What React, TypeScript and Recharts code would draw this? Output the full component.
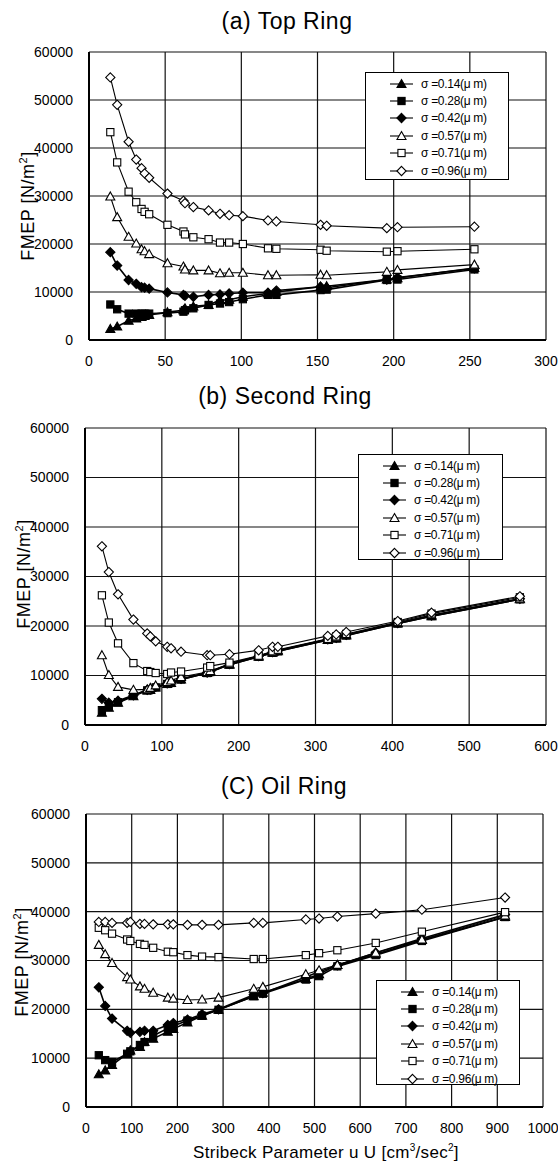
import React from "react";
import { LineChart, Line, XAxis, YAxis, CartesianGrid, Legend } from "recharts";

const sigmaLabels = [
  "σ =0.14(μ m)",
  "σ =0.28(μ m)",
  "σ =0.42(μ m)",
  "σ =0.57(μ m)",
  "σ =0.71(μ m)",
  "σ =0.96(μ m)",
];

const yTicks = [0, 10000, 20000, 30000, 40000, 50000, 60000];

// (a) Top Ring
const xA = [14, 18.5, 26, 31, 34.5, 36.5, 39.5, 51.5, 62, 63, 68.5, 78.5, 86, 92, 101, 117.5, 123, 152, 156, 195.5, 202.5, 253];
const a014 = [2300, 2800, 4000, 4500, 4800, 5000, 5200, 5800, 6200, 6600, 7000, 7300, 8300, 8400, 9000, 9700, 10000, 11100, 11200, 12600, 12900, 15000];
const a028 = [7400, 6400, 5500, 5500, 5500, 5500, 5500, 5600, 5900, 6200, 6600, 7300, 7600, 7900, 8500, 9400, 9400, 10400, 10500, 12500, 12600, 14700];
const a042 = [18300, 15500, 12500, 11700, 11000, 10900, 10700, 9900, 9400, 9200, 9000, 9400, 9500, 9700, 9850, 9850, 10300, 11100, 10900, 12600, 13000, 14900];
const a057 = [29900, 25600, 21500, 20100, 18900, 18500, 17900, 16000, 15300, 14700, 14500, 14500, 13900, 14000, 14000, 13500, 13500, 13600, 13500, 14200, 14600, 15700];
const a071 = [43300, 37000, 30900, 28700, 27300, 26700, 26200, 24000, 22600, 22000, 21400, 21000, 20300, 20300, 20000, 19100, 19000, 18800, 18600, 18400, 18500, 18900];
const a096 = [54700, 49000, 41300, 37600, 35800, 34700, 33800, 30500, 29000, 28500, 27700, 27000, 26300, 26000, 25800, 24900, 24700, 24000, 23800, 23300, 23500, 23600];
const xTicksA = [0, 50, 100, 150, 200, 250, 300];

// (b) Second Ring
const xB = [22, 31, 43, 63, 81, 85, 92, 107, 112, 125, 159, 163, 188, 226, 244, 251, 316, 327, 340, 407, 451, 566];
const b014 = [2500, 3500, 4500, 5800, 7000, 7100, 7600, 8300, 8500, 9200, 10500, 10700, 12200, 13800, 14600, 14900, 17200, 17500, 18100, 20500, 22000, 25400];
const b028 = [3000, 3800, 4600, 6000, 7000, 7100, 7600, 8300, 8500, 9200, 10500, 10700, 12200, 13800, 14600, 14900, 17200, 17500, 18100, 20500, 22000, 25400];
const b042 = [5300, 4500, 4900, 6000, 7100, 7200, 7700, 8400, 8600, 9300, 10600, 10800, 12300, 13900, 14700, 15000, 17300, 17600, 18200, 20600, 22100, 25500];
const b057 = [14100, 10100, 7700, 7100, 7200, 7500, 8000, 8700, 9000, 9700, 10700, 10900, 12300, 14000, 14800, 15100, 17300, 17700, 18300, 20600, 22200, 25500];
const b071 = [26200, 20700, 16500, 12500, 10900, 10700, 10500, 10300, 10600, 10800, 11600, 11900, 12600, 14000, 14900, 15200, 17400, 17900, 18400, 20800, 22500, 25800];
const b096 = [36100, 30900, 26400, 21300, 18500, 17900, 16900, 15800, 15500, 14800, 14100, 14100, 14300, 15100, 15800, 15800, 18000, 18300, 18800, 21000, 22700, 26000];
const xTicksB = [0, 100, 200, 300, 400, 500, 600];

// (C) Oil Ring
const xC = [28, 42, 57, 90, 97, 118, 128, 147, 179, 191, 222, 254, 290, 367, 387, 481, 510, 550, 634, 735, 917];
const c014 = [6700, 7500, 8600, 10900, 11600, 12300, 13300, 14000, 15400, 16000, 17300, 18700, 19900, 22700, 23400, 26200, 27200, 29100, 31300, 34200, 38900];
const c028 = [10600, 9600, 9200, 10900, 11400, 12700, 13300, 14600, 16100, 16600, 17700, 18700, 19900, 22700, 23200, 26100, 26800, 28800, 31100, 34000, 38900];
const c042 = [24500, 20700, 18100, 15600, 15200, 15400, 15600, 15600, 16800, 17200, 17900, 19000, 20000, 23000, 23300, 26600, 27700, 29000, 31600, 34500, 39400];
const c057 = [33200, 31300, 29500, 26600, 26100, 24700, 24200, 23400, 22400, 22200, 21900, 22000, 22400, 24200, 24600, 27200, 28000, 29100, 31600, 34300, 39200];
const c071 = [36700, 36200, 35500, 34300, 34000, 33400, 33200, 32600, 31800, 31700, 31100, 30800, 30700, 30300, 30300, 31100, 31500, 32100, 33600, 35900, 39900];
const c096 = [37900, 37900, 37700, 37700, 37900, 37500, 37500, 37400, 37400, 37400, 37300, 37300, 37300, 37700, 37700, 38400, 38600, 39000, 39600, 40400, 42900];
const xTicksC = [0, 100, 200, 300, 400, 500, 600, 700, 800, 900, 1000];

const FONT = '"Liberation Sans", Arial, Helvetica, sans-serif';

const seriesKeys = ["s014", "s028", "s042", "s057", "s071", "s096"];
const marks = [
  { mark: "tri", filled: true },
  { mark: "sq", filled: true },
  { mark: "dia", filled: true },
  { mark: "tri", filled: false },
  { mark: "sq", filled: false },
  { mark: "dia", filled: false },
];

function buildRows(xs: number[], ys: number[][]) {
  return xs.map((x, i) => {
    const row: any = { x };
    seriesKeys.forEach((k, j) => (row[k] = ys[j][i]));
    return row;
  });
}

const Marker = ({ cx, cy, mark, filled }: any) => {
  const common = { fill: filled ? "#000" : "#fff", stroke: "#000", strokeWidth: 1.1 };
  if (mark === "tri") {
    return <polygon points={`${cx},${cy - 4.5} ${cx + 4.5},${cy + 3.5} ${cx - 4.5},${cy + 3.5}`} {...common} />;
  }
  if (mark === "sq") {
    return <rect x={cx - 3.6} y={cy - 3.6} width={7.2} height={7.2} {...common} />;
  }
  return <polygon points={`${cx},${cy - 4.6} ${cx + 4.6},${cy} ${cx},${cy + 4.6} ${cx - 4.6},${cy}`} {...common} />;
};

const LegendBox = ({ width, height }: { width: number; height: number }) => (
  <div
    style={{
      width,
      height,
      boxSizing: "border-box",
      border: "1px solid #000",
      background: "#fff",
      paddingTop: 2,
      fontFamily: FONT,
      fontSize: 12,
    }}
  >
    {sigmaLabels.map((label, i) => (
      <div key={label} style={{ height: 17.4, display: "flex", alignItems: "center" }}>
        <svg width={55} height={14} style={{ flex: "none" }}>
          <line x1={24} y1={7} x2={47} y2={7} stroke="#000" strokeWidth={1.1} />
          <Marker cx={35.5} cy={7} {...marks[i]} />
        </svg>
        <span style={{ whiteSpace: "nowrap", letterSpacing: -0.3 }}>{label}</span>
      </div>
    ))}
  </div>
);

type PanelProps = {
  top: number;
  height: number;
  margin: { top: number; right: number; bottom: number; left: number };
  rows: any[];
  xMax: number;
  xTicks: number[];
  legendPos: { top: number; left: number; width: number; height: number };
};

function Panel({ top, height, margin, rows, xMax, xTicks, legendPos }: PanelProps) {
  return (
    <div style={{ position: "absolute", left: 0, top }}>
      <LineChart width={558} height={height} data={rows} margin={margin}>
        <CartesianGrid stroke="#111" strokeWidth={1.2} />
        <XAxis
          type="number"
          dataKey="x"
          domain={[0, xMax]}
          ticks={xTicks}
          interval={0}
          tickLine={false}
          tickMargin={10}
          axisLine={{ stroke: "#000", strokeWidth: 2 }}
          tick={{ fontSize: 14, fill: "#000", fontFamily: FONT }}
          height={25}
        />
        <YAxis
          type="number"
          domain={[0, 60000]}
          ticks={yTicks}
          interval={0}
          tickLine={false}
          tickMargin={10}
          axisLine={{ stroke: "#000", strokeWidth: 2 }}
          tick={{ fontSize: 14, fill: "#000", fontFamily: FONT }}
          width={60}
        />
        <Legend
          layout="horizontal"
          verticalAlign="middle"
          align="center"
          wrapperStyle={{ top: legendPos.top, left: legendPos.left, width: legendPos.width, height: legendPos.height }}
          content={() => <LegendBox width={legendPos.width} height={legendPos.height} />}
        />
        {seriesKeys.map((k, i) => (
          <Line
            key={k}
            dataKey={k}
            name={sigmaLabels[i]}
            stroke="#000"
            strokeWidth={marks[i].filled ? 1.6 : 1.1}
            isAnimationActive={false}
            dot={(p: any) => <Marker key={`${k}-${p.index}`} cx={p.cx} cy={p.cy} {...marks[i]} />}
            activeDot={false}
          />
        ))}
      </LineChart>
    </div>
  );
}

const Title = ({ text, cx, cy }: { text: string; cx: number; cy: number }) => (
  <div
    style={{
      position: "absolute",
      left: cx - 150,
      top: cy - 14,
      width: 300,
      textAlign: "center",
      fontFamily: FONT,
      fontSize: 23,
      letterSpacing: 0.5,
      lineHeight: "28px",
    }}
  >
    {text}
  </div>
);

const YLabel = ({ cx, cy }: { cx: number; cy: number }) => (
  <div
    style={{
      position: "absolute",
      left: cx,
      top: cy,
      transform: "translate(-50%, -50%) rotate(-90deg)",
      whiteSpace: "nowrap",
      fontFamily: FONT,
      fontSize: 18,
      letterSpacing: 0.5,
    }}
  >
    FMEP [N/m<sup style={{ fontSize: 11 }}>2</sup>]
  </div>
);

export default function App() {
  const rowsA = buildRows(xA, [a014, a028, a042, a057, a071, a096]);
  const rowsB = buildRows(xB, [b014, b028, b042, b057, b071, b096]);
  const rowsC = buildRows(xC, [c014, c028, c042, c057, c071, c096]);

  return (
    <div
      style={{
        position: "absolute",
        left: 0,
        top: 0,
        width: 558,
        height: 1166,
        background: "#fff",
        overflow: "hidden",
        color: "#000",
      }}
    >
      <Title text="(a) Top Ring" cx={287} cy={21} />
      <Panel
        top={0}
        height={372}
        margin={{ top: 52, right: 12, bottom: 7, left: 29 }}
        rows={rowsA}
        xMax={300}
        xTicks={xTicksA}
        legendPos={{ top: 72, left: 365, width: 144, height: 108 }}
      />
      <YLabel cx={28} cy={206} />

      <Title text="(b) Second Ring" cx={285} cy={396} />
      <Panel
        top={380}
        height={380}
        margin={{ top: 48, right: 12, bottom: 10, left: 25 }}
        rows={rowsB}
        xMax={600}
        xTicks={xTicksB}
        legendPos={{ top: 74, left: 358, width: 145, height: 106 }}
      />
      <YLabel cx={24} cy={574} />

      <Title text="(C) Oil Ring" cx={284} cy={786} />
      <Panel
        top={765}
        height={401}
        margin={{ top: 49, right: 15, bottom: 34, left: 26 }}
        rows={rowsC}
        xMax={1000}
        xTicks={xTicksC}
        legendPos={{ top: 215, left: 376, width: 144, height: 105 }}
      />
      <YLabel cx={22} cy={962} />
      <div
        style={{
          position: "absolute",
          left: 326 - 200,
          top: 1142,
          width: 400,
          textAlign: "center",
          fontFamily: FONT,
          fontSize: 17,
          letterSpacing: 0.3,
          whiteSpace: "nowrap",
        }}
      >
        Stribeck Parameter u U [cm<sup style={{ fontSize: 10 }}>3</sup>/sec<sup style={{ fontSize: 10 }}>2</sup>]
      </div>
    </div>
  );
}
